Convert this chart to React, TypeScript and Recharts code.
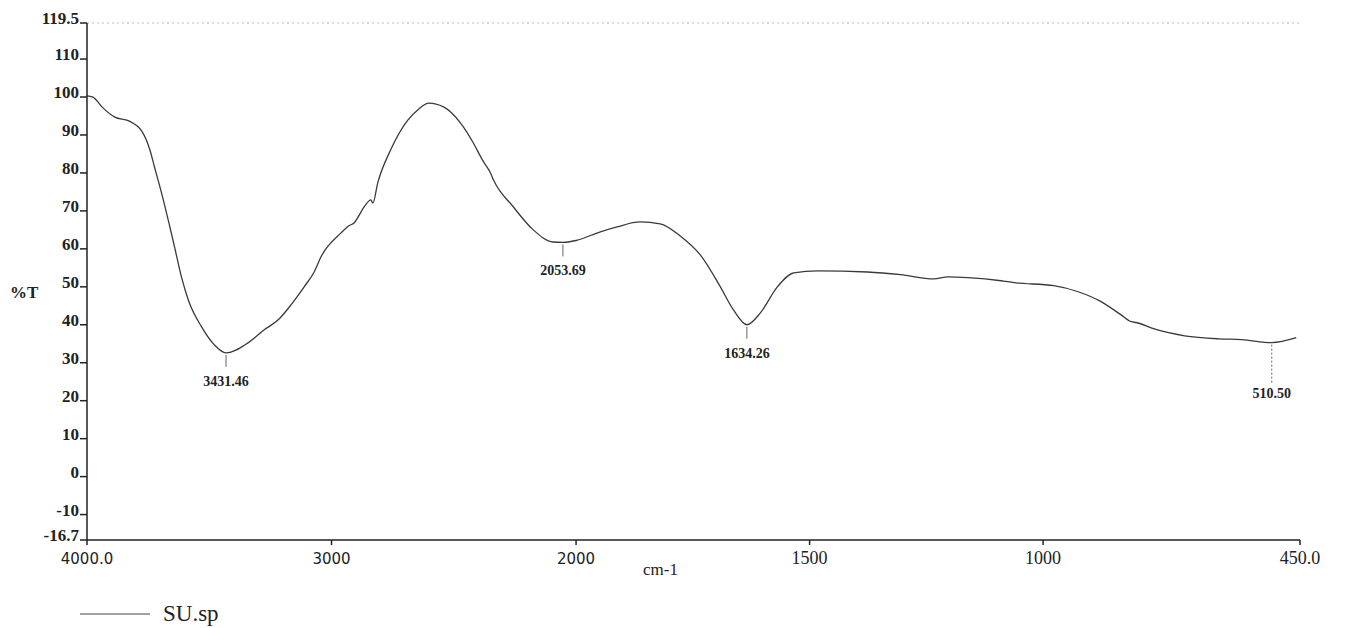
import React from "react";
import { LineChart, Line, XAxis, YAxis, ReferenceLine, LabelList, Legend } from "recharts";

// wavenumber (cm-1) and %T
const wavenumbers = [
  4000, 3976, 3939, 3886, 3829, 3776, 3743, 3723, 3695, 3666, 3642, 3613, 3585, 3532, 3479,
  3431.46, 3340, 3275, 3218, 3165, 3112, 3071, 3043, 2961, 2929, 2908, 2896, 2864, 2839, 2831,
  2811, 2758, 2688, 2644, 2603, 2542, 2473, 2420, 2387, 2375, 2350, 2338, 2257, 2175, 2094,
  2053.69, 2000, 1948, 1912, 1863, 1820, 1777, 1734, 1691, 1663, 1634.26, 1605, 1569, 1534,
  1483, 1376, 1305, 1234, 1204, 1161, 1090, 1062, 977, 925, 876, 833, 811, 801, 762, 697,
  624, 575, 510.5, 458,
];
const transmittance = [
  100.3, 100.0, 97.4, 94.7, 93.7, 91.0, 86.1, 81.3, 74.7, 67.1, 60.5, 52.4, 46.4, 39.5, 34.7,
  32.6, 35.3, 38.7, 41.3, 45.3, 50.0, 53.9, 57.9, 64.2, 66.1, 66.8, 67.9, 71.3, 72.9, 72.1,
  77.4, 86.1, 93.9, 96.8, 98.4, 97.4, 93.2, 87.9, 83.9, 82.6, 80.0, 78.2, 71.1, 65.0, 61.8,
  61.7, 62.2, 64.5, 65.8, 67.1, 66.6, 63.4, 58.4, 50.0, 43.9, 40.0, 43.2, 50.0, 53.7,
  54.2, 53.9, 53.2, 52.1, 52.6, 52.4, 51.6, 51.1, 50.3, 48.7, 46.1, 42.6, 40.8, 40.6, 38.9, 37.1,
  36.3, 36.1, 35.3, 36.6,
];

const peakWavenumbers = [3431.46, 2053.69, 1634.26, 510.5];
const peakLabels = ["3431.46", "2053.69", "1634.26", "510.50"];

const xTickValues = [4000, 3000, 2000, 1500, 1000, 450];
const xTickLabels = ["4000.0", "3000", "2000", "1500", "1000", "450.0"];
const yTickValues = [-16.7, -10, 0, 10, 20, 30, 40, 50, 60, 70, 80, 90, 100, 110, 119.5];
const yTickLabels = ["-16.7", "-10", "0", "10", "20", "30", "40", "50", "60", "70", "80", "90", "100", "110", "119.5"];

const seriesName = "SU.sp";

// the instrument expands the scale below 2000 cm-1
const BREAK = 2000;
const EXPAND = 1.91;
const toAxis = (wn: number) =>
  wn >= BREAK ? 4000 - wn : 4000 - BREAK + (BREAK - wn) * EXPAND;

const data = wavenumbers.map((wn, i) => {
  const p = peakWavenumbers.indexOf(wn);
  return { pos: toAxis(wn), t: transmittance[i], peak: p >= 0 ? peakLabels[p] : undefined };
});
const xTicks = xTickValues.map(toAxis);

const INK = "#222";
const SERIF = "'Liberation Serif', 'Times New Roman', serif";

const XTick = (props: any) => {
  const { x, y, payload } = props;
  const i = xTicks.indexOf(payload.value);
  const sans = xTickValues[i] >= 2000;
  return (
    <text
      x={x}
      y={y}
      dy={17}
      textAnchor="middle"
      fontFamily={sans ? "'DejaVu Sans', sans-serif" : SERIF}
      fontSize={sans ? 15 : 18}
      fill={INK}
    >
      {xTickLabels[i]}
    </text>
  );
};

const YTick = (props: any) => {
  const { x, y, payload } = props;
  const i = yTickValues.indexOf(payload.value);
  return (
    <text x={x} y={y} dy={1} textAnchor="end" fontFamily={SERIF} fontWeight="bold" fontSize={17} fill={INK}>
      {yTickLabels[i]}
    </text>
  );
};

const PeakMark = (props: any) => {
  const { x, y, value } = props;
  if (!value) return null;
  const long = value === "510.50";
  return (
    <g>
      <line
        x1={x}
        y1={y + 2}
        x2={x}
        y2={y + (long ? 42 : 14)}
        stroke="#666"
        strokeDasharray={long ? "2 2" : undefined}
      />
      <text x={x} y={y + (long ? 55 : 33)} textAnchor="middle" fontFamily={SERIF} fontWeight="bold" fontSize={14} fill={INK}>
        {value}
      </text>
    </g>
  );
};

const LegendBox = () => (
  <div style={{ display: "flex", alignItems: "center", height: 28, paddingLeft: 72, fontFamily: SERIF, fontSize: 23, color: INK }}>
    <svg width={70} height={4}>
      <line x1={0} y1={2} x2={70} y2={2} stroke="#444" strokeWidth={1.2} />
    </svg>
    <span style={{ marginLeft: 13 }}>{seriesName}</span>
  </div>
);

const App = () => {
  return (
    <LineChart width={1330} height={620} data={data} margin={{ top: 15, right: 38, left: 0, bottom: 0 }}>
      <XAxis
        type="number"
        dataKey="pos"
        domain={[0, toAxis(450)]}
        ticks={xTicks}
        interval={0}
        allowDataOverflow
        height={60}
        tickSize={5}
        tickMargin={2}
        tick={<XTick />}
        stroke={INK}
        strokeWidth={1.5}
        label={{ value: "cm-1", position: "insideBottom", offset: 25, dx: -33, fontFamily: SERIF, fontSize: 17, fill: INK }}
      />
      <YAxis
        type="number"
        domain={[-16.7, 119.5]}
        ticks={yTickValues}
        interval={0}
        allowDataOverflow
        width={79}
        tickSize={7}
        tickMargin={1}
        tick={<YTick />}
        stroke={INK}
        strokeWidth={1.5}
        label={{ value: "%T", position: "insideLeft", offset: 2, dy: 10, fontFamily: SERIF, fontWeight: "bold", fontSize: 17, fill: INK }}
      />
      <ReferenceLine y={119.5} stroke="#bbb" strokeDasharray="2 3" />
      <Legend verticalAlign="bottom" align="left" height={28} content={<LegendBox />} />
      <Line
        type="monotone"
        dataKey="t"
        name={seriesName}
        stroke="#3a3a3a"
        strokeWidth={1.3}
        dot={false}
        isAnimationActive={false}
      >
        <LabelList dataKey="peak" content={<PeakMark />} />
      </Line>
    </LineChart>
  );
};

export default App;
